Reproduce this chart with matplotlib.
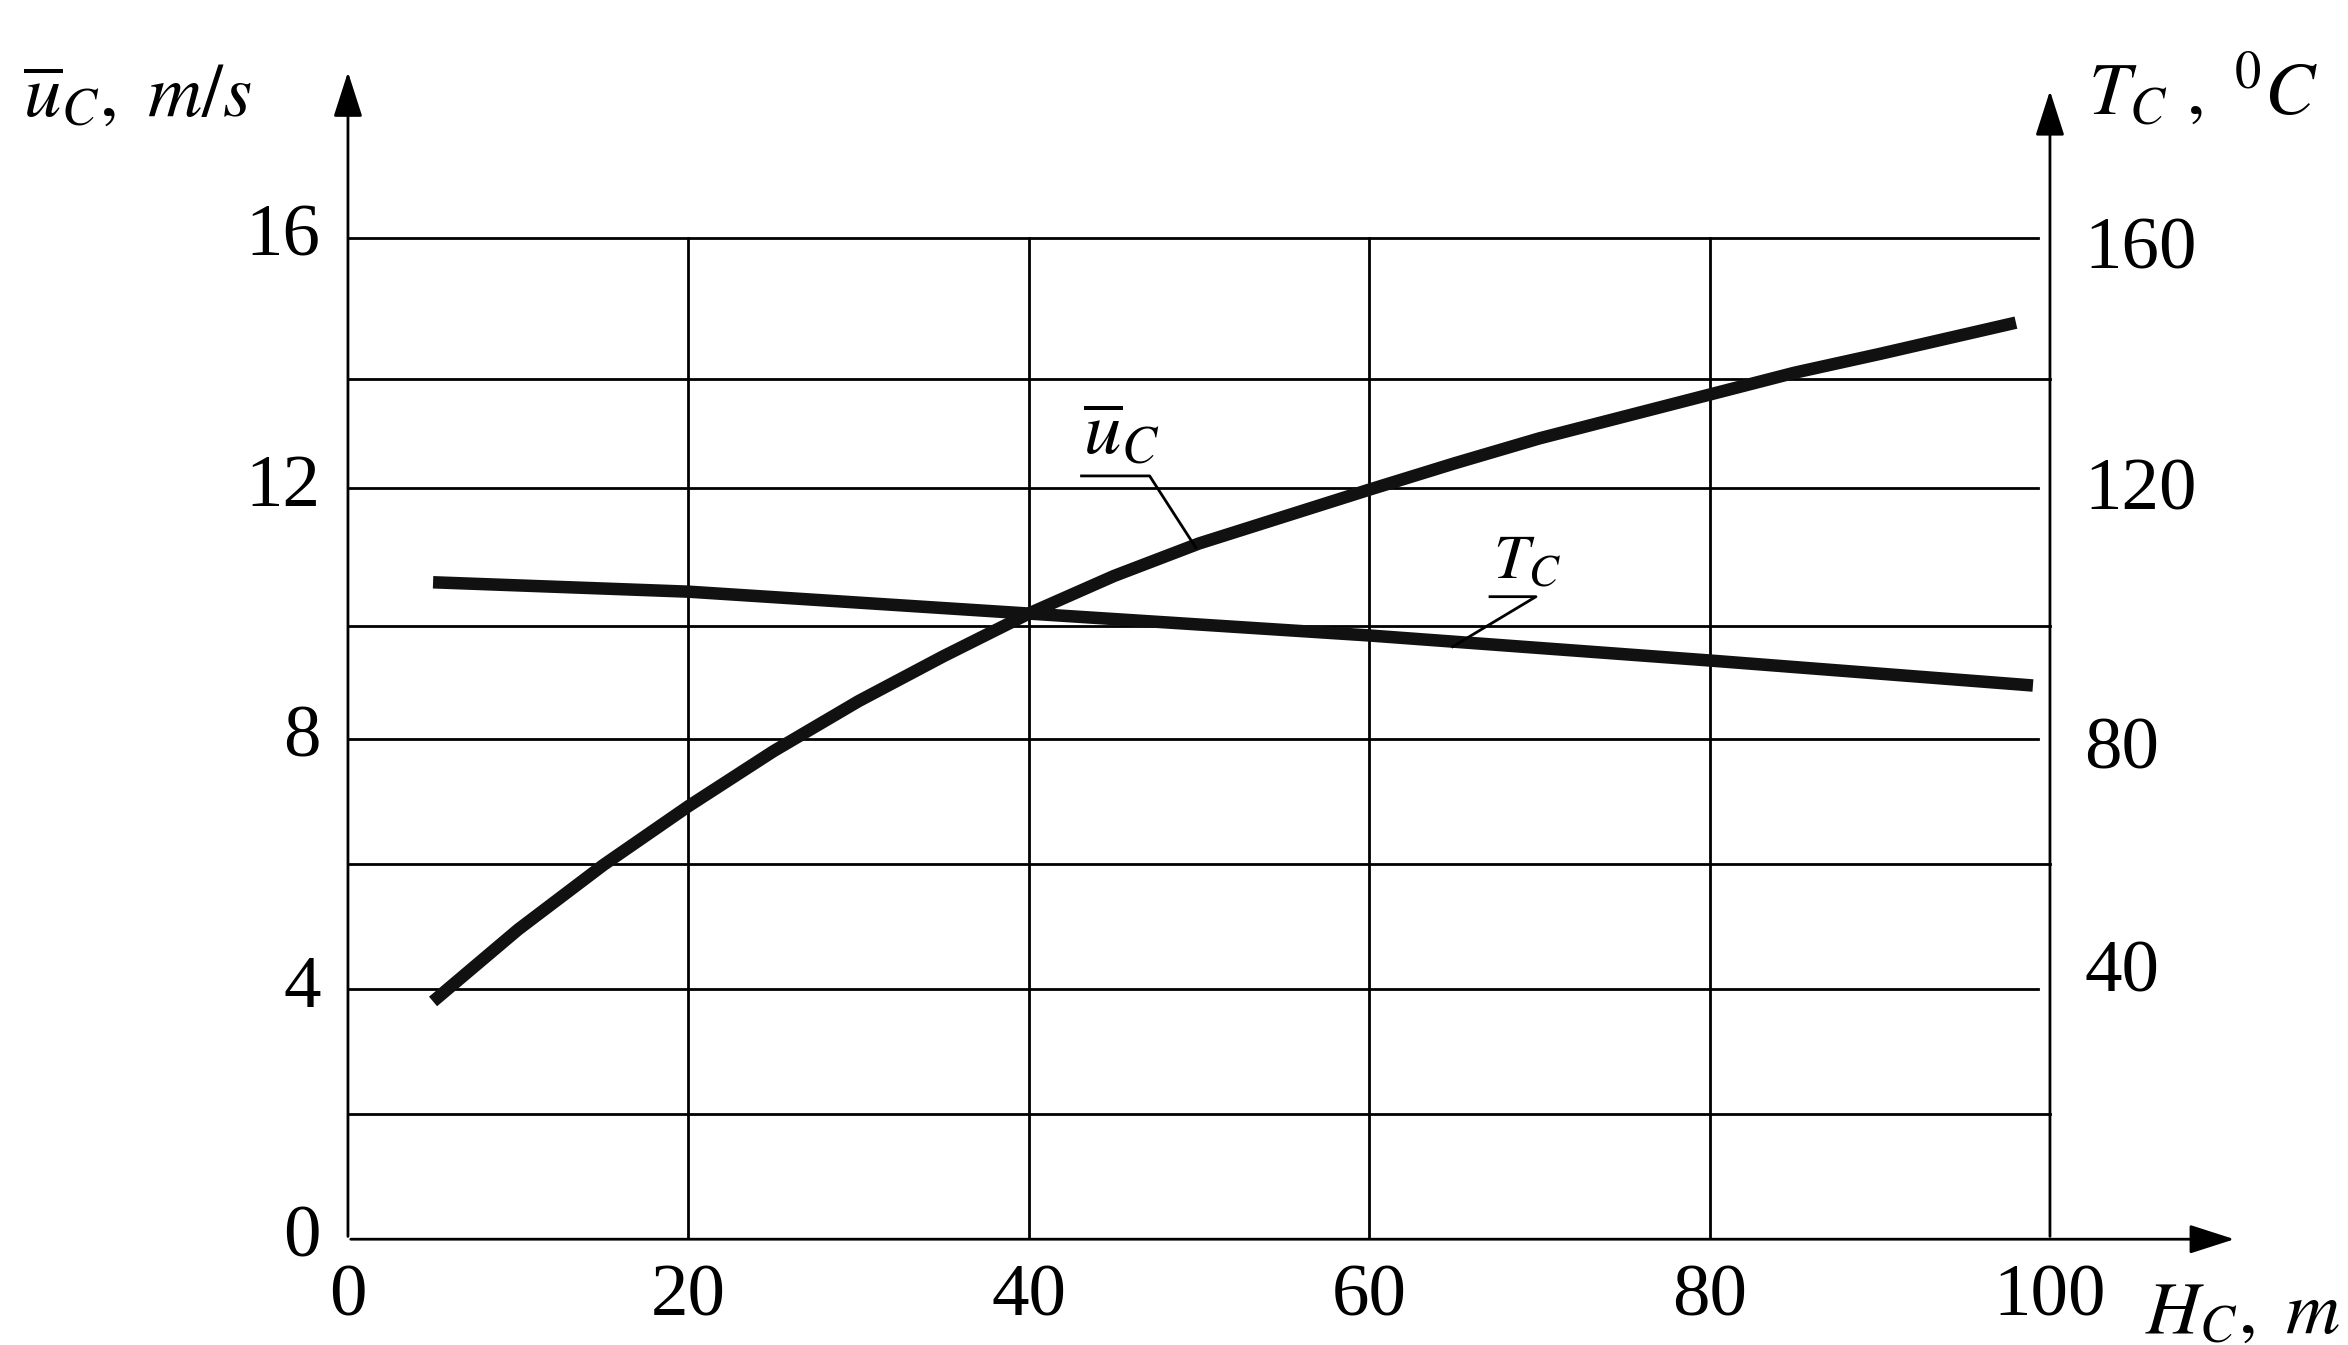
import numpy as np
import matplotlib.pyplot as plt

plt.rcParams['font.family'] = ['Liberation Serif', 'DejaVu Serif']
plt.rcParams['mathtext.fontset'] = 'stix'

# data
h_u = [5, 10, 15, 20, 25, 30, 35, 40, 45, 50, 55, 60, 65, 70, 75, 80, 85, 90, 98]
u_c = [3.8, 4.95, 5.98, 6.92, 7.8, 8.6, 9.32, 10.0, 10.6, 11.12, 11.55, 11.98, 12.4, 12.8, 13.15, 13.5, 13.85, 14.15, 14.65]
h_t = [5, 20, 40, 60, 80, 99]
t_c = [105, 103.5, 100, 96.5, 92.5, 88.5]

x_ticks = [0, 20, 40, 60, 80, 100]
u_ticks = [0, 4, 8, 12, 16]
t_ticks = [40, 80, 120, 160]
h_grid = [2, 4, 6, 8, 9.8, 12, 13.75, 16]

W, H = 1552, 890
fig = plt.figure(figsize=(23.48, 13.45), dpi=100)
ax = fig.add_axes([230 / W, 1 - 820 / H, (1480 - 230) / W, (820 - 45) / H])
ax.set_xlim(0, (1480 - 230) / 11.25)
ax.set_ylim(0, (820 - 45) / 41.4)
ax.axis('off')

lw = 2
for y in h_grid:
    ax.plot([0, 99.3 if y in (16, 12, 8, 4) else 100], [y, y], color='black', lw=lw)
for x in [20, 40, 60, 80]:
    ax.plot([x, x], [0, 16], color='black', lw=lw)

# axes with arrows
arrow = dict(arrowstyle='-|>,head_length=2.8,head_width=0.9', color='black', lw=lw)
ax.annotate('', xy=(0, 18.7), xytext=(0, 0), arrowprops=arrow)
ax.annotate('', xy=(111, 0), xytext=(0, 0), arrowprops=arrow)
ax.annotate('', xy=(100, 18.4), xytext=(100, 0), arrowprops=arrow)

# curves (T on right scale: T = 10 * u-units)
ax.plot(h_u, u_c, color='#111', lw=9, solid_capstyle='butt')
ax.plot(h_t, np.array(t_c) / 10, color='#111', lw=9, solid_capstyle='butt')

fs = 54
for v in u_ticks:
    ax.text(-1.6, v, str(v), ha='right', va='center', fontsize=fs)
t_pos = {40: 4.25, 80: 7.8, 120: 11.95, 160: 15.8}
for v in t_ticks:
    ax.text(102, t_pos[v], str(v), ha='left', va='center', fontsize=fs)
for v in x_ticks:
    ax.text(v, -0.4, str(v), ha='center', va='top', fontsize=fs)

# leaders
ax.plot([43.1, 47.1, 49.8], [12.2, 12.2, 11.06], color='black', lw=lw)
ax.plot([67.1, 69.8, 64.9], [10.27, 10.27, 9.47], color='black', lw=lw)
ax.text(43.2, 12.3, r'$\overline{u}_C$', fontsize=fs, ha='left', va='bottom')
ax.text(67.3, 10.35, r'$T_C$', fontsize=46, ha='left', va='bottom')

fig.text(15 / W, 1 - 65 / H, r'$\overline{u}_C,\ m/s$', fontsize=fs, ha='left', va='center')
fig.text(1380 / W, 1 - 60 / H, r'$T_C\ ,\ ^0C$', fontsize=fs, ha='left', va='center')
fig.text(1418 / W, 1 - 870 / H, r'$H_C,\ m$', fontsize=fs, ha='left', va='center')

fig.savefig('out.png', dpi=100)
